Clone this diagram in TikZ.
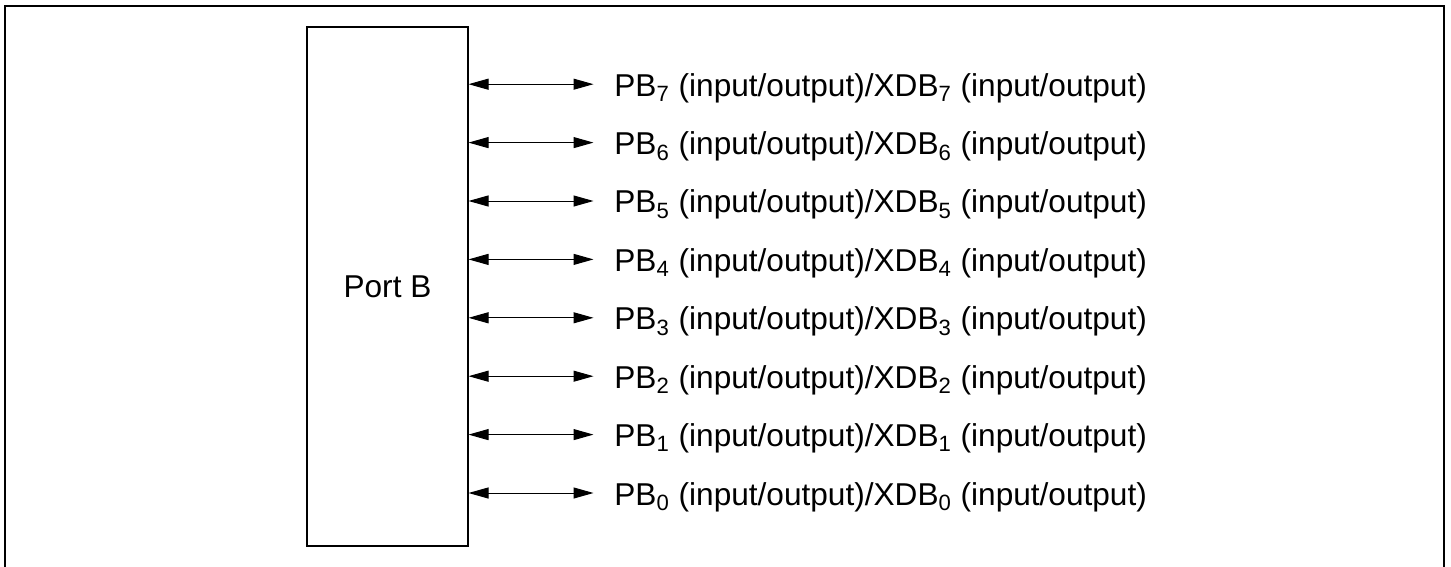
\documentclass[tikz,border=0pt]{standalone}
\usepackage{fontspec}
\setmainfont{Liberation Sans}
\usetikzlibrary{arrows.meta,positioning}

\begin{document}
\begin{tikzpicture}[x=0.5pt, y=-0.5pt,
    portbox/.style={draw, line width=1pt, minimum width=80.5pt, minimum height=259.5pt, inner sep=0pt, font=\fontsize{15.8}{19}\selectfont},
    pinlabel/.style={anchor=base west, inner sep=0pt, font=\fontsize{15.8}{19}\selectfont},
    biarrow/.style={{Triangle[length=10pt,width=5.5pt]}-{Triangle[length=10pt,width=5.5pt]}, line width=0.5pt}
]
\useasboundingbox (0,0) rectangle (1451,567);
% outer frame
\draw[line width=1pt] (5,6) rectangle (1444,572);

\node[portbox] (portb) at (387.5,286.5) {Port B};

\foreach \i in {0,...,7} {
    \coordinate (pin\i) at (468.5,{493-58.4*\i});
    \coordinate (tip\i) at (593.5,{493-58.4*\i});
    \node[pinlabel] (pb\i) at (614,{493-58.4*\i+12}) {PB\textsubscript{\i} (input/output)/XDB\textsubscript{\i} (input/output)};
    \draw[biarrow] (pin\i) -- (tip\i);
}
\end{tikzpicture}
\end{document}
